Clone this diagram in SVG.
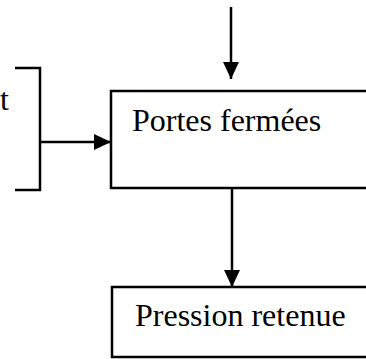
<svg xmlns="http://www.w3.org/2000/svg" width="366" height="359" viewBox="0 0 366 359">
  <style>
    .box { fill: #ffffff; stroke: #000000; stroke-width: 2.5; }
    .conn { fill: none; stroke: #000000; stroke-width: 2.5; }
    .lbl { font-family: "Liberation Serif", "Times New Roman", serif; font-size: 32px; fill: #000000; }
  </style>
  <defs>
    <marker id="arrow" markerUnits="userSpaceOnUse" markerWidth="17" markerHeight="17" viewBox="0 0 17 17" refX="17" refY="8.5" orient="auto">
      <path d="M0,0.5 L17,8.5 L0,16.5 Z" fill="#000000"/>
    </marker>
  </defs>
  <rect width="366" height="359" fill="#ffffff"/>
  <g id="bracket-node">
    <text class="lbl" x="0" y="110">t</text>
    <polyline class="conn" points="15,68 40,68 40,190 15,190"/>
  </g>
  <g id="portes-fermees">
    <rect class="box" x="111" y="91" width="262" height="97"/>
    <text class="lbl" x="132" y="131">Portes fermées</text>
  </g>
  <g id="pression-retenue">
    <rect class="box" x="112" y="287" width="262" height="70"/>
    <text class="lbl" x="135" y="326">Pression retenue</text>
  </g>
  <g id="connectors">
    <line class="conn" x1="231" y1="7" x2="231" y2="79" marker-end="url(#arrow)"/>
    <line class="conn" x1="40" y1="142" x2="111" y2="142" marker-end="url(#arrow)"/>
    <line class="conn" x1="232" y1="188" x2="232" y2="287" marker-end="url(#arrow)"/>
  </g>
</svg>
